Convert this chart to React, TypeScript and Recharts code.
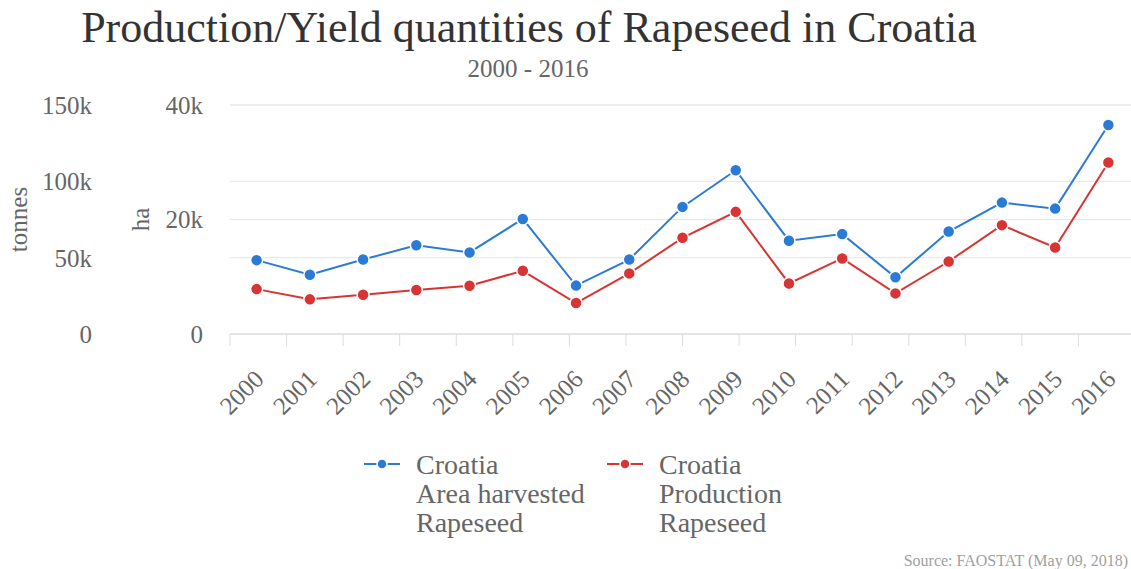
import { LineChart, Line, XAxis, YAxis, CartesianGrid, Legend } from "recharts";

const years = ["2000", "2001", "2002", "2003", "2004", "2005", "2006", "2007", "2008", "2009", "2010", "2011", "2012", "2013", "2014", "2015", "2016"];
// Area harvested, ha (right-hand "ha" axis)
const areaHarvested = [12900, 10350, 13000, 15500, 14250, 20100, 8450, 13000, 22200, 28600, 16300, 17450, 9900, 17900, 22950, 21900, 36500];
// Production, tonnes
const production = [29400, 22700, 25700, 28800, 31600, 41400, 20300, 39700, 63000, 80000, 33100, 49500, 26600, 47500, 71300, 56700, 112300];

const tonnesTicks = [0, 50000, 100000, 150000];
const haTicks = [0, 20000, 40000];
const boundaryTicks = years.map((_, i) => i).concat([years.length]);

const BLUE = "#2b7bd6";
const RED = "#d93434";
const FONT = "'Liberation Serif', serif";

const data = years.map((year, i) => ({
	year,
	area: areaHarvested[i],
	production: production[i],
}));

const fmtK = (v: number) => (v === 0 ? "0" : `${v / 1000}k`);

const YearTick = ({ x, y, payload }: any) => (
	<g transform={`translate(${x - 3},${y})`}>
		<text
			transform="rotate(-45)"
			textAnchor="end"
			dy="0.66em"
			fill="#666"
			fontSize={25}
			fontFamily={FONT}
		>
			{payload.value}
		</text>
	</g>
);

const legendItems = [
	{ color: BLUE, lines: ["Croatia", "Area harvested", "Rapeseed"] },
	{ color: RED, lines: ["Croatia", "Production", "Rapeseed"] },
];

const LegendContent = () => (
	<div style={{ display: "flex", fontFamily: FONT, fontSize: 28, color: "#666" }}>
		{legendItems.map((item, i) => (
			<div key={i} style={{ display: "flex", alignItems: "flex-start", width: 243 }}>
				<svg width={36} height={20} style={{ marginTop: 4, marginRight: 16 }}>
					<line x1={0} y1={10} x2={36} y2={10} stroke={item.color} strokeWidth={2} />
					<circle cx={18} cy={10} r={5} fill={item.color} stroke="#fff" strokeWidth={1.5} />
				</svg>
				<div style={{ lineHeight: "29px" }}>
					{item.lines.map((l) => (
						<div key={l}>{l}</div>
					))}
				</div>
			</div>
		))}
	</div>
);

export default function App() {
	return (
		<div
			style={{
				position: "absolute",
				left: 0,
				top: 0,
				width: 1131,
				height: 569,
				overflow: "hidden",
				background: "#fff",
				fontFamily: FONT,
			}}
		>
			<div
				style={{
					position: "absolute",
					left: 0,
					width: 1058,
					top: 2,
					textAlign: "center",
					fontSize: 44,
					color: "#333",
				}}
			>
				Production/Yield quantities of Rapeseed in Croatia
			</div>
			<div
				style={{
					position: "absolute",
					left: 0,
					width: 1056,
					top: 55,
					textAlign: "center",
					fontSize: 25,
					color: "#666",
				}}
			>
				2000 - 2016
			</div>
			<LineChart
				width={1135}
				height={569}
				data={data}
				margin={{ top: 105, right: 0, bottom: 123, left: 0 }}
			>
				<CartesianGrid yAxisId="ha" xAxisId="b" vertical={false} stroke="#e6e6e6" />
				<CartesianGrid yAxisId="t" xAxisId="b" vertical={false} stroke="#e6e6e6" />
				{/* band boundary ticks */}
				<XAxis
					xAxisId="a"
					type="number"
					domain={[0, years.length]}
					ticks={boundaryTicks}
					allowDataOverflow
					height={12}
					tickSize={12}
					stroke="#dcdcdc"
					tickFormatter={() => ""}
				/>
				<XAxis
					xAxisId="b"
					dataKey="year"
					scale="band"
					height={100}
					axisLine={false}
					tickLine={false}
					tickSize={0}
					tickMargin={23}
					interval={0}
					tick={<YearTick />}
				/>
				<YAxis
					yAxisId="ha"
					width={110}
					domain={[0, 40000]}
					ticks={haTicks}
					axisLine={false}
					tickLine={false}
					tickSize={0}
					tickMargin={27}
					tickFormatter={fmtK}
					tick={{ fill: "#666", fontSize: 25, fontFamily: FONT }}
					label={({ viewBox }: any) => (
						<text
							x={viewBox.x + 20}
							y={viewBox.y + viewBox.height / 2}
							transform={`rotate(-90 ${viewBox.x + 20} ${viewBox.y + viewBox.height / 2})`}
							textAnchor="middle"
							dominantBaseline="central"
							fill="#666"
							fontSize={25}
							fontFamily={FONT}
						>
							ha
						</text>
					)}
				/>
				<YAxis
					yAxisId="t"
					width={120}
					domain={[0, 150000]}
					ticks={tonnesTicks}
					axisLine={false}
					tickLine={false}
					tickSize={0}
					tickMargin={28}
					tickFormatter={fmtK}
					tick={{ fill: "#666", fontSize: 25, fontFamily: FONT }}
					label={({ viewBox }: any) => (
						<text
							x={viewBox.x + 18}
							y={viewBox.y + viewBox.height / 2}
							transform={`rotate(-90 ${viewBox.x + 18} ${viewBox.y + viewBox.height / 2})`}
							textAnchor="middle"
							dominantBaseline="central"
							fill="#666"
							fontSize={25}
							fontFamily={FONT}
						>
							tonnes
						</text>
					)}
				/>
				<Line
					xAxisId="b"
					yAxisId="ha"
					dataKey="area"
					name="Croatia Area harvested Rapeseed"
					stroke={BLUE}
					strokeWidth={2}
					dot={{ r: 6, fill: BLUE, stroke: "#fff", strokeWidth: 1.5 }}
					isAnimationActive={false}
				/>
				<Line
					xAxisId="b"
					yAxisId="t"
					dataKey="production"
					name="Croatia Production Rapeseed"
					stroke={RED}
					strokeWidth={2}
					dot={{ r: 6, fill: RED, stroke: "#fff", strokeWidth: 1.5 }}
					isAnimationActive={false}
				/>
				<Legend
					layout="horizontal"
					verticalAlign="middle"
					align="center"
					content={<LegendContent />}
					wrapperStyle={{ top: 450, left: 364, width: 500, height: 100 }}
				/>
			</LineChart>
			<div
				style={{
					position: "absolute",
					right: 3,
					top: 552,
					fontSize: 16,
					color: "#a0a0a0",
				}}
			>
				Source: FAOSTAT (May 09, 2018)
			</div>
		</div>
	);
}
